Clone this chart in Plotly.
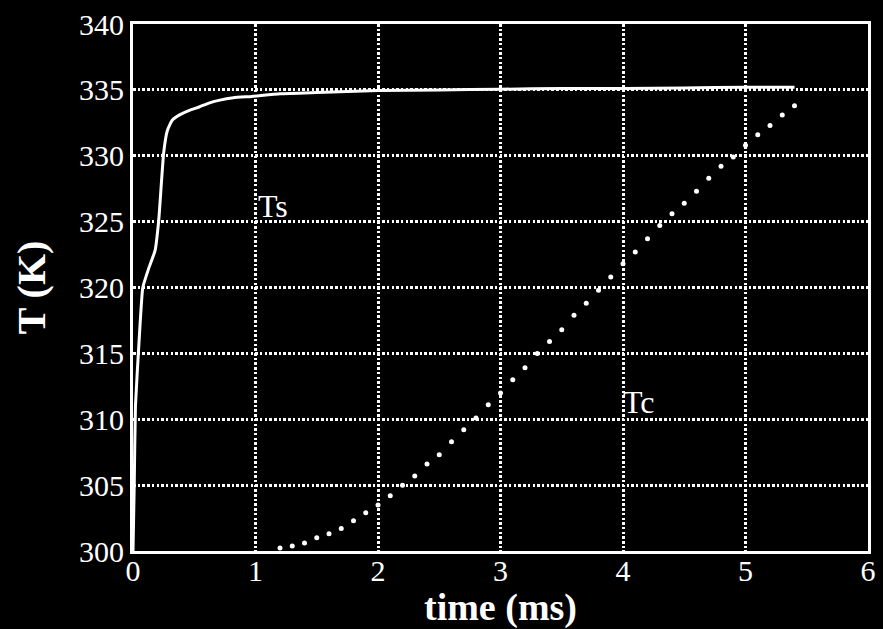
import plotly.graph_objects as go

# Surface temperature Ts (solid curve)
ts_time = [0.0, 0.01, 0.02, 0.05, 0.08, 0.13, 0.18, 0.21, 0.25, 0.28, 0.32, 0.38,
           0.46, 0.54, 0.62, 0.70, 0.82, 0.97, 1.2, 1.5, 2.0, 2.5, 3.0, 3.5,
           4.0, 4.5, 5.0, 5.4]
ts_temp = [300.0, 305.0, 311.0, 316.0, 320.0, 321.5, 322.8, 325.1, 330.2, 331.9,
           332.7, 333.1, 333.45, 333.7, 334.0, 334.2, 334.4, 334.5, 334.7, 334.8,
           334.95, 335.0, 335.05, 335.1, 335.1, 335.15, 335.2, 335.2]

# Core temperature Tc (dotted points, every 0.1 ms)
tc_time = [1.2, 1.3, 1.4, 1.5, 1.6, 1.7, 1.8, 1.9, 2.0, 2.1, 2.2, 2.3, 2.4, 2.5,
           2.6, 2.7, 2.8, 2.9, 3.0, 3.1, 3.2, 3.3, 3.4, 3.5, 3.6, 3.7, 3.8, 3.9,
           4.0, 4.1, 4.2, 4.3, 4.4, 4.5, 4.6, 4.7, 4.8, 4.9, 5.0, 5.1, 5.2, 5.3, 5.4]
tc_temp = [300.23, 300.38, 300.6, 301.0, 301.3, 301.7, 302.3, 302.9, 303.5, 304.2,
           305.0, 305.7, 306.6, 307.3, 308.3, 309.2, 310.1, 311.1, 312.0, 313.0,
           313.9, 315.0, 315.9, 316.8, 317.9, 318.8, 319.8, 320.8, 321.8, 322.7,
           323.7, 324.7, 325.6, 326.4, 327.3, 328.3, 329.2, 329.9, 330.8, 331.6,
           332.3, 333.1, 333.8]

x_ticks = [0, 1, 2, 3, 4, 5, 6]
y_ticks = [300, 305, 310, 315, 320, 325, 330, 335, 340]

SERIF = "Liberation Serif, Times New Roman, serif"

fig = go.Figure()
fig.add_trace(go.Scatter(x=ts_time, y=ts_temp, mode="lines", line_shape="spline",
                         line=dict(color="white", width=3, smoothing=0.4),
                         showlegend=False))
fig.add_trace(go.Scatter(x=tc_time, y=tc_temp, mode="markers",
                         marker=dict(color="white", size=5), showlegend=False))

fig.add_annotation(x=1.0, y=326.2, text="Ts", showarrow=False, xanchor="left",
                   yanchor="middle", font=dict(family=SERIF, size=32, color="white"))
fig.add_annotation(x=3.98, y=311.3, text="Tc", showarrow=False, xanchor="left",
                   yanchor="middle", font=dict(family=SERIF, size=32, color="white"))

axis_common = dict(
    showgrid=True, gridcolor="white", gridwidth=2.5, griddash="2.5px,2.2px",
    showline=True, linecolor="white", linewidth=3, mirror=True,
    zeroline=False, ticks="",
    tickfont=dict(family=SERIF, size=30, color="white"),
)

fig.update_xaxes(range=[0, 6], tickvals=x_ticks, ticktext=[str(v) for v in x_ticks],
                 ticklabelposition="outside", ticklabelstandoff=-9,
                 title=dict(text="<b>time (ms)</b>", standoff=0,
                            font=dict(family=SERIF, size=38, color="white")),
                 **axis_common)
fig.update_yaxes(range=[300, 340], tickvals=y_ticks, ticktext=[str(v) for v in y_ticks],
                 title=dict(text="<b>T (K)</b>", standoff=22,
                            font=dict(family=SERIF, size=40, color="white")),
                 **axis_common)

fig.update_layout(
    width=883, height=629,
    margin=dict(l=133, r=7, t=22, b=78),
    paper_bgcolor="black", plot_bgcolor="black",
)

fig.write_html("out.html")
